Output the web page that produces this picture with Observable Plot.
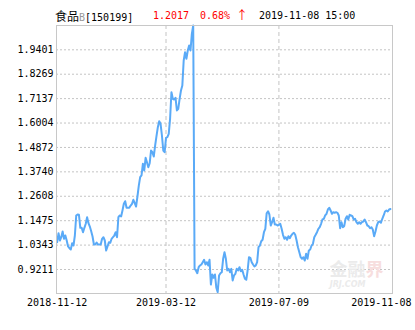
<!DOCTYPE html>
<html><head><meta charset="utf-8">
<script src="https://cdn.jsdelivr.net/npm/d3@7"></script>
<script src="https://cdn.jsdelivr.net/npm/@observablehq/plot@0.6"></script>
<style>
body{margin:0;background:#fff;}
#wrap{position:relative;width:415px;height:330px;}
#hdr{position:absolute;left:0;top:0;width:415px;height:24px;font-family:"DejaVu Sans Mono",monospace;font-size:10px;}
#hdr span.p{position:absolute;top:10px;line-height:12px;white-space:pre;}
.cjk{font-family:"Noto Sans CJK SC",sans-serif;font-size:12px;}
</style></head>
<body><div id="wrap"><div id="hdr"></div></div>
<script>
// Header texts
const fundName = "食品";
const fundLetter = "B";
const fundCode = "[150199]";
const lastPrice = "1.2017";
const changeText = "0.68%";
const changeArrow = "↑";
const timeText = "2019-11-08 15:00";

// Y ticks and labels
const yTicks = [0.9211, 1.0343, 1.1475, 1.2608, 1.3740, 1.4872, 1.6004, 1.7137, 1.8269, 1.9401];
const yTickLabels = ["0.9211", "1.0343", "1.1475", "1.2608", "1.3740", "1.4872", "1.6004", "1.7137", "1.8269", "1.9401"];
const yDomain = [0.8098, 2.0528];

// X ticks (trading-day index) and labels
const xTickIdx = [0, 80, 163, 245];
const xTickLabels = ["2018-11-12", "2019-03-12", "2019-07-09", "2019-11-08"];

// Daily net values
const segNov = [1.0477, 1.0895, 1.0556, 1.0709, 1.0974, 1.0635, 1.0788, 1.0556, 1.0278, 1.0199,
1.0139, 1.0431, 1.0324, 1.0788, 1.1716, 1.1762, 1.1748, 1.1145, 1.1145, 1.0941,
1.1145, 1.1331, 1.1637, 1.1358, 1.1205, 1.0987, 1.0742, 1.0371, 1.0371, 1.0463,
1.0371, 1.0371, 1.0371, 1.0635, 1.0709, 1.0556, 1.0092, 1.0278, 1.0477, 1.0449,
1.0635, 1.0709, 1.0788, 1.0941, 1.0709, 1.1637, 1.1716, 1.1669, 1.1948, 1.2258,
1.2379, 1.2073, 1.2073, 1.2073, 1.2179, 1.2258, 1.2444, 1.2286, 1.2133];
const segRise = [1.2597, 1.31, 1.3492, 1.3571, 1.4114, 1.3803, 1.4392, 1.4188, 1.3956, 1.4141, 1.4730,
1.4652, 1.4452, 1.4962, 1.54, 1.5811, 1.6089, 1.5969, 1.5426, 1.4730, 1.4652, 1.5319,
1.5347, 1.5505, 1.6201, 1.7434, 1.7128, 1.7096, 1.7175, 1.6586, 1.6665, 1.7128,
1.7513, 1.7745, 1.8905, 1.9290, 1.8984, 1.9369, 1.9601, 1.9369, 2.0143, 2.0528];
const segLow = [0.9243, 0.9165, 0.9039, 0.9318, 0.9397, 0.9443, 0.9550, 0.9661, 0.9443,
0.9550, 0.9397, 0.9661, 0.8515, 0.8979, 0.8826, 0.8979, 0.8362, 0.8158,
0.8933, 0.9039, 0.9086, 0.9707, 1.0013, 0.9707, 0.9165, 0.9243, 0.9086, 0.9243,
0.8701, 0.8933, 0.9012, 0.9243, 0.9165, 0.9318, 0.9132, 0.9197, 0.8979, 0.8780,
0.8733, 0.9165, 0.9781, 0.9754, 0.9550, 0.9443, 0.9350, 0.9397, 0.9550, 1.0245,
1.0324, 1.0524, 1.0589, 1.0941, 1.1099, 1.1822, 1.1915, 1.1762, 1.1252,
1.1405, 1.1609, 1.1298, 1.1298, 1.1252];
const segSummer = [1.1284, 1.1331, 1.1099, 1.0820, 1.0635, 1.0709, 1.0589, 1.0755, 1.0663,
1.0788, 1.0867, 1.0913, 1.0820, 1.0556, 1.0245, 1.0013, 0.9781, 0.9707, 0.9781,
0.9628, 0.9939, 0.9707, 1.0092, 1.0139, 1.0324, 1.0403, 1.0709, 1.0820, 1.0941,
1.1099, 1.1173, 1.1331, 1.1530, 1.1563, 1.1716, 1.1794, 1.1994, 1.2073, 1.1948,
1.1794, 1.1869];
const segAutumn = [1.1841, 1.1869, 1.1841, 1.1716, 1.1127, 1.1405, 1.1173, 1.1220, 1.1563, 1.1683,
1.1530, 1.1748, 1.1716, 1.1683, 1.1530, 1.1563, 1.1405, 1.1331, 1.1405, 1.1331,
1.1405, 1.1437, 1.1530, 1.1405, 1.1252, 1.1220, 1.1127, 1.1173, 1.1066, 1.0755,
1.0974, 1.1252, 1.1405, 1.1437, 1.1377, 1.1563, 1.1716, 1.1901, 1.1948, 1.1901,
1.1994, 1.2017];
const values = [...segNov, ...segRise, ...segLow, ...segSummer, ...segAutumn];
const series = values.map((v, i) => ({i, v}));

// Header
const hdr = document.getElementById("hdr");
hdr.innerHTML =
  `<span class="p" style="left:55px;color:#000"><span class="cjk">${fundName}</span><span style="color:#999">${fundLetter}</span>${fundCode}</span>` +
  `<span class="p" style="left:153px;color:#f00">${lastPrice}</span>` +
  `<span class="p" style="left:200px;color:#f00">${changeText}</span>` +
  `<span class="p cjk" style="left:236px;top:9px;color:#f00">${changeArrow}</span>` +
  `<span class="p" style="left:259px;color:#000">${timeText}</span>`;

const chart = Plot.plot({
  width: 415, height: 330,
  marginLeft: 56, marginRight: 23, marginTop: 25, marginBottom: 37,
  style: {fontFamily: "DejaVu Sans Mono, monospace", fontSize: "10px", color: "#000", background: "transparent"},
  x: {domain: [-0.5, values.length + 0.5], axis: null},
  y: {domain: yDomain, axis: null},
  marks: [
    Plot.gridY(yTicks, {stroke: "#c4c4c4", strokeOpacity: 1, strokeDasharray: "2,2"}),
    Plot.gridX(xTickIdx.slice(1, 3), {stroke: "#c4c4c4", strokeOpacity: 1, strokeDasharray: "4,3"}),
    Plot.text(["金融"], {frameAnchor: "bottom-right", textAnchor: "end", lineAnchor: "middle", dx: -27, dy: -23, fill: "#ebebeb", fontSize: 18, fontWeight: "bold", fontFamily: "Noto Sans CJK SC"}),
    Plot.text(["界"], {frameAnchor: "bottom-right", textAnchor: "end", lineAnchor: "middle", dx: -9, dy: -23, fill: "#f7dede", fontSize: 18, fontWeight: "bold", fontFamily: "Noto Sans CJK SC"}),
    Plot.text(["JRJ.COM"], {frameAnchor: "bottom-right", textAnchor: "end", lineAnchor: "middle", dx: -27, dy: -9, fill: "#ebebeb", fontSize: 8, fontWeight: "bold", fontStyle: "italic", fontFamily: "DejaVu Sans"}),
    Plot.lineY(series, {x: "i", y: "v", stroke: "#5aaaf7", strokeWidth: 2}),
    Plot.frame({stroke: "#c8c8c8"}),
    Plot.axisY(yTicks, {label: null, tickSize: 0, tickPadding: 3, fill: "#000", tickFormat: d => yTickLabels[yTicks.indexOf(d)]}),
    Plot.axisX(xTickIdx.slice(0, 3), {label: null, tickSize: 0, tickPadding: 5, fill: "#000", tickFormat: d => xTickLabels[xTickIdx.indexOf(d)]}),
    Plot.axisX(xTickIdx.slice(3), {label: null, tickSize: 0, tickPadding: 5, fill: "#000", textAnchor: "end", dx: 21, tickFormat: d => xTickLabels[xTickIdx.indexOf(d)]})
  ]
});
const svg = chart;
svg.style.position = "absolute";
svg.style.left = "0px";
svg.style.top = "0px";
document.getElementById("wrap").insertBefore(svg, document.getElementById("hdr"));
</script>
</body></html>
